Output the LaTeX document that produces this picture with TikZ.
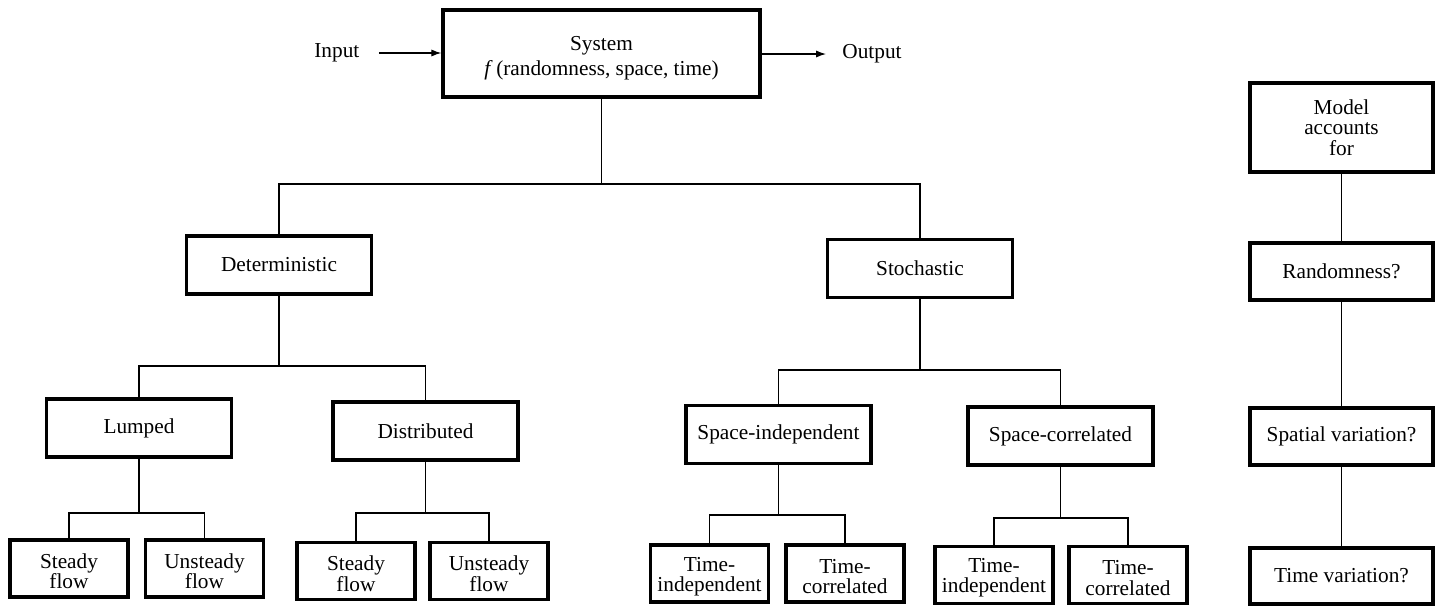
\documentclass[tikz,border=0pt]{standalone}
\usepackage{fontspec}
\setmainfont{Liberation Serif}
\usetikzlibrary{arrows.meta}
\newcommand{\toppad}[1]{\rule{0pt}{#1}}
\begin{document}
\begin{tikzpicture}[x=0.5pt,y=-0.5pt,
  box/.style={draw, line width=1.7pt, align=center, inner sep=0pt, font=\fontsize{10.65}{10.2}\selectfont},
  wide/.style={box, minimum width=92.5pt, minimum height=29pt},
  leaf/.style={box, minimum width=59pt, minimum height=28.5pt},
  lbl/.style={font=\fontsize{10.65}{12}\selectfont, inner sep=0pt},
  conn/.style={line width=0.6pt},
  arr/.style={conn, -{Latex[length=5pt,width=3.6pt]}}]
\useasboundingbox (0,0) rectangle (1436,606);
% top
\node[box, minimum width=158.5pt, minimum height=43.5pt] (sys) at (601.5,53.5) {\toppad{12pt}System\\[2.2pt]\textit{f}\,(randomness, space, time)};
\node[lbl, anchor=west] (in) at (314,53) {Input};
\node[lbl, anchor=west] (out) at (842,54) {Output};
\draw[arr, shorten <=9.5pt] (in.east) -- (in.east -| sys.west);
\draw[arr, shorten >=8pt] (out.west -| sys.east) -- (out.west);
% level 1
\node[wide] (det) at (279,265) {Deterministic};
\node[wide] (sto) at (920,268.5) {Stochastic};
% level 2
\node[wide] (lum) at (139,428) {Lumped};
\node[wide] (dis) at (425.5,431) {Distributed};
\node[wide] (spi) at (778.5,434.5) {Space-independent};
\node[wide] (spc) at (1060.5,436) {Space-correlated};
% level 3
\node[leaf] (s1) at (69,568.5) {\toppad{10pt}Steady\\flow};
\node[leaf] (u1) at (204.5,568.5) {\toppad{10pt}Unsteady\\flow};
\node[leaf] (s2) at (356,571) {\toppad{10pt}Steady\\flow};
\node[leaf] (u2) at (489,571) {\toppad{10pt}Unsteady\\flow};
\node[leaf] (ti1) at (709.5,573.5) {\toppad{10pt}Time-\\independent};
\node[leaf] (tc1) at (845,573.5) {\toppad{10pt}Time-\\correlated};
\node[leaf] (ti2) at (994,575) {\toppad{10pt}Time-\\independent};
\node[leaf] (tc2) at (1128,575) {\toppad{10pt}Time-\\correlated};
% right column
\node[box, minimum width=91.5pt, minimum height=44.5pt] (mod) at (1341.5,127.5) {Model\\accounts\\for};
\node[box, minimum width=91.5pt, minimum height=28.5pt] (ran) at (1341.5,271.5) {Randomness?};
\node[box, minimum width=91.5pt, minimum height=28.5pt] (spa) at (1341.5,436.5) {Spatial variation?};
\node[box, minimum width=91.5pt, minimum height=28pt] (tim) at (1341.5,576) {Time variation?};
% junctions
\coordinate (j0) at (sys.south |- 0,184);
\coordinate (j1) at (det.south |- 0,366);
\coordinate (j2) at (sto.south |- 0,370);
\coordinate (j3) at (lum.south |- 0,513);
\coordinate (j4) at (dis.south |- 0,513);
\coordinate (j5) at (spi.south |- 0,515);
\coordinate (j6) at (spc.south |- 0,518);
% connectors
\draw[conn] (sys.south) -- (j0);
\draw[conn] (det.north) |- (j0) -| (sto.north);
\draw[conn] (det.south) -- (j1);
\draw[conn] (lum.north) |- (j1) -| (dis.north);
\draw[conn] (sto.south) -- (j2);
\draw[conn] (spi.north) |- (j2) -| (spc.north);
\draw[conn] (lum.south) -- (j3);
\draw[conn] (s1.north) |- (j3) -| (u1.north);
\draw[conn] (dis.south) -- (j4);
\draw[conn] (s2.north) |- (j4) -| (u2.north);
\draw[conn] (spi.south) -- (j5);
\draw[conn] (ti1.north) |- (j5) -| (tc1.north);
\draw[conn] (spc.south) -- (j6);
\draw[conn] (ti2.north) |- (j6) -| (tc2.north);
\draw[conn] (mod.south) -- (ran.north);
\draw[conn] (ran.south) -- (spa.north);
\draw[conn] (spa.south) -- (tim.north);
\end{tikzpicture}
\end{document}
